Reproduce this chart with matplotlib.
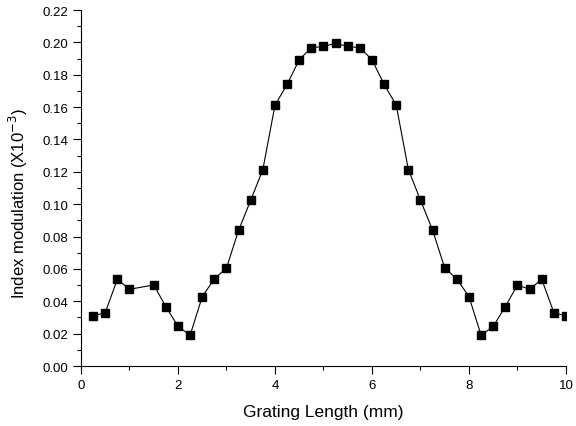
import matplotlib
matplotlib.use('Agg')
import matplotlib.pyplot as plt
from matplotlib.ticker import MultipleLocator

plt.rcParams['font.family'] = ['Liberation Sans', 'DejaVu Sans']

length_mm = [0.25, 0.5, 0.75, 1.0, 1.5, 1.75, 2.0, 2.25, 2.5, 2.75, 3.0, 3.25,
             3.5, 3.75, 4.0, 4.25, 4.5, 4.75, 5.0, 5.25, 5.5, 5.75, 6.0, 6.25,
             6.5, 6.75, 7.0, 7.25, 7.5, 7.75, 8.0, 8.25, 8.5, 8.75, 9.0, 9.25,
             9.5, 9.75, 10.0]
modulation = [0.0309, 0.0330, 0.0536, 0.0474, 0.0501, 0.0367, 0.0245, 0.0190,
              0.0429, 0.0538, 0.0606, 0.0839, 0.1025, 0.1214, 0.1612, 0.1740,
              0.1893, 0.1967, 0.1975, 0.1994, 0.1975, 0.1967, 0.1893, 0.1740,
              0.1612, 0.1214, 0.1025, 0.0839, 0.0606, 0.0538, 0.0429, 0.0190,
              0.0245, 0.0367, 0.0501, 0.0474, 0.0536, 0.0330, 0.0309]

fig = plt.figure(figsize=(5.76, 4.27), dpi=100)
ax = fig.add_axes([0.1406, 0.1405, 0.8420, 0.8337])
ax.plot(length_mm, modulation, 'k-', lw=0.8, marker='s', ms=5.2, mfc='k', mec='k')

ax.set_xlim(0, 10)
ax.set_ylim(0, 0.22)
ax.xaxis.set_major_locator(MultipleLocator(2))
ax.xaxis.set_minor_locator(MultipleLocator(1))
ax.yaxis.set_major_locator(MultipleLocator(0.02))
ax.yaxis.set_minor_locator(MultipleLocator(0.01))
ax.yaxis.set_major_formatter(plt.FormatStrFormatter('%.2f'))
ax.tick_params(which='both', direction='out', labelsize=9.5, width=0.8, pad=3.5)
ax.tick_params(which='major', length=5.5)
ax.tick_params(which='minor', length=3)
for s in ['top', 'right']:
	ax.spines[s].set_visible(False)
for s in ['left', 'bottom']:
	ax.spines[s].set_linewidth(0.8)

ax.set_xlabel('Grating Length (mm)', fontsize=12.5)
ax.set_ylabel(r'Index modulation (X10$^{-3}$)', fontsize=12)
ax.xaxis.set_label_coords(0.5, -0.108)
ax.yaxis.set_label_coords(-0.105, 0.46)

fig.savefig('out.png', dpi=100)
